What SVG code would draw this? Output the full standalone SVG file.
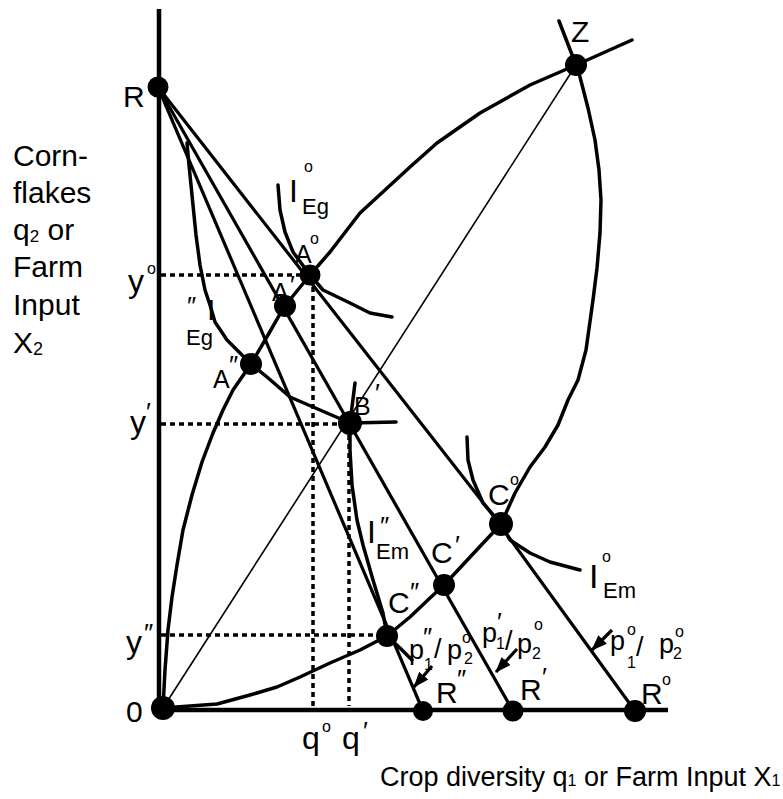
<svg xmlns="http://www.w3.org/2000/svg" width="783" height="799" viewBox="0 0 783 799">
<style>
text{font-family:"Liberation Sans",Arial,sans-serif;fill:#000}
.lbl{font-size:30px}
.big{font-size:32px}
.sm{font-size:25px}
.pp{font-size:27px}
.deg{font-size:16px}
.pr{font-size:26px}
.sub{font-size:22px}
.ps{font-size:16px}
.axis{stroke:#000;stroke-width:4.5;fill:none}
.bl{stroke:#000;stroke-width:3.2;fill:none;stroke-linejoin:round}
.cv{stroke:#000;stroke-width:3.5;fill:none;stroke-linejoin:round;stroke-linecap:round}
.thin{stroke:#000;stroke-width:1.6;fill:none}
.dot{stroke:#000;stroke-width:3.5;fill:none;stroke-dasharray:5 4}
.node{fill:#000}
</style>
<defs>
<marker id="ah" viewBox="0 0 16 12" refX="15" refY="6" markerWidth="16" markerHeight="12" markerUnits="userSpaceOnUse" orient="auto">
<path d="M0,0 L16,6 L0,12 Z" fill="#000"/>
</marker>
</defs>

<g id="connectors">
<path class="axis" d="M159,9 L159,710 L668,710"/>
<path class="dot" d="M161,275 L300,275"/>
<path class="dot" d="M161,424 L340,424"/>
<path class="dot" d="M161,635 L377,635"/>
<path class="dot" d="M313,287 L313,706"/>
<path class="dot" d="M349,435 L349,706"/>
<path class="thin" d="M163,708 L576,65"/>
<path class="bl" d="M158,87 L423,711"/>
<path class="bl" d="M158,87 L513,711"/>
<path class="bl" d="M158,87 L492,514 L635,711"/>
<path class="cv" d="M163,708 L165,670 L168,630 L172,597 L177,565 L183,530 L192,495 L202,462 L213,433 L223,410 L233,390 L251,364 L268,335 L284,307 L310,275 L330,252 L360,213 L385,190 L410,167 L437,143 L480,113 L530,85 L576,65 L632,40"/>
<path class="cv" d="M559,21 L576,65 L580,77 L588,108 L595,140 L599,170 L601,200 L600,233 L597,268 L593,300 L586,350 L578,380 L568,400 L558,425 L545,447 L530,467 L515,493 L501,524 L472,555 L444,585 L430,598 L410,617 L387,636 L360,650 L330,663 L300,677 L277,687 L250,695 L217,704 L163,708"/>
<path class="cv" d="M278,185 L280,210 L285,232 L293,252 L310,275 L323,290 L350,303 L370,313 L392,317"/>
<path class="cv" d="M187,143 L189,165 L192,195 L196,235 L200,265 L205,290 L210,305 L215,322 L227,340 L251,364 L267,377 L290,397 L320,410 L350,423 L396,422"/>
<path class="cv" d="M467,437 L468,460 L473,480 L483,503 L501,524 L510,540 L530,553 L550,562 L580,570"/>
<path class="cv" d="M355,383 L350,423 L350,450 L352,485 L357,520 L363,545 L373,580 L383,613 L387,636 L400,648 L412,660"/>
<path class="bl" d="M612,630 L592,650" marker-end="url(#ah)"/>
<path class="bl" d="M517,649 L496,672" marker-end="url(#ah)"/>
<path class="bl" d="M432,666 L414,687" marker-end="url(#ah)"/>
</g>

<g id="node-R"><circle class="node" cx="158" cy="87" r="10.5"/><text class="lbl" x="123" y="107">R</text></g>
<g id="node-Z"><circle class="node" cx="576" cy="65" r="11"/><text class="lbl" x="571" y="42">Z</text></g>
<g id="node-A0"><circle class="node" cx="310" cy="275" r="10.5"/><text class="sm" x="295" y="263">A</text><text class="deg" x="310" y="244">o</text></g>
<g id="node-A1"><circle class="node" cx="285" cy="306" r="11"/><text class="sm" x="272" y="301">A</text><text class="pr" x="290" y="294">′</text></g>
<g id="node-A2"><circle class="node" cx="251" cy="364" r="11"/><text class="sm" x="213" y="388">A</text><text class="pr" x="229" y="374">″</text></g>
<g id="node-B1"><circle class="node" cx="350" cy="423" r="12"/><text class="sm" x="354" y="415">B</text><text class="pr" x="375" y="402">′</text></g>
<g id="node-C0"><circle class="node" cx="501" cy="524" r="12"/><text class="lbl" x="488" y="505">C</text><text class="deg" x="510" y="485">o</text></g>
<g id="node-C1"><circle class="node" cx="444" cy="585" r="11"/><text class="lbl" x="431" y="563">C</text><text class="pr" x="455" y="554">′</text></g>
<g id="node-C2"><circle class="node" cx="387" cy="636" r="11"/><text class="lbl" x="388" y="613">C</text><text class="pr" x="410" y="601">″</text></g>
<g id="node-O"><circle class="node" cx="163" cy="708" r="12"/><text class="lbl" x="126" y="722">0</text></g>
<g id="node-R2"><circle class="node" cx="423" cy="711" r="10"/><text class="lbl" x="436" y="703">R</text><text class="pr" x="457" y="688">″</text></g>
<g id="node-R1"><circle class="node" cx="513" cy="711" r="10.5"/><text class="lbl" x="520" y="700">R</text><text class="pr" x="542" y="686">′</text></g>
<g id="node-R0"><circle class="node" cx="635" cy="711" r="11"/><text class="lbl" x="641" y="704">R</text><text class="deg" x="662" y="685">o</text></g>

<g id="label-IEg0"><text class="big" x="289" y="202">I</text><text class="deg" x="304" y="172">o</text><text class="sub" x="302" y="214">Eg</text></g>
<g id="label-IEg2"><text class="pr" x="187" y="315">″</text><text class="lbl" x="207" y="320">I</text><text class="sub" x="186" y="345">Eg</text></g>
<g id="label-IEm2"><text class="big" x="367" y="543">I</text><text class="pr" x="380" y="535">″</text><text class="sub" x="376" y="559">Em</text></g>
<g id="label-IEm0"><text class="big" x="589" y="588" style="font-size:34px">I</text><text class="deg" x="602" y="562">o</text><text class="sub" x="603" y="598">Em</text></g>

<g id="label-yo"><text class="big" x="128" y="292">y</text><text class="deg" x="147" y="274">o</text></g>
<g id="label-y1"><text class="big" x="130" y="433">y</text><text class="pr" x="146" y="421">′</text></g>
<g id="label-y2"><text class="big" x="126" y="653">y</text><text class="pr" x="144" y="642">″</text></g>
<g id="label-qo"><text class="big" x="302" y="749">q</text><text class="deg" x="322" y="732">o</text></g>
<g id="label-q1"><text class="big" x="342" y="749">q</text><text class="pr" x="363" y="740">′</text></g>

<g id="label-p2"><text class="pp" x="409" y="659">p</text><text class="pr" x="423" y="646">″</text><text class="ps" x="424" y="670">1</text><text class="pp" x="434" y="658">/</text><text class="pp" x="447" y="659">p</text><text class="deg" x="462" y="643">o</text><text class="ps" x="464" y="664">2</text></g>
<g id="label-p1"><text class="pp" x="482" y="642">p</text><text class="pr" x="497" y="631">′</text><text class="ps" x="496" y="649">1</text><text class="pp" x="505" y="650">/</text><text class="pp" x="517" y="653">p</text><text class="deg" x="534" y="630">o</text><text class="ps" x="532" y="659">2</text></g>
<g id="label-p0"><text class="pp" x="610" y="650">p</text><text class="deg" x="627" y="635">o</text><text class="ps" x="627" y="668">1</text><text class="pp" x="636" y="656">/</text><text class="pp" x="659" y="653">p</text><text class="deg" x="675" y="637">o</text><text class="ps" x="673" y="659">2</text></g>

<g id="label-yaxis">
<text class="lbl" x="13" y="166">Corn-</text>
<text class="lbl" x="13" y="203">flakes</text>
<text class="lbl" x="13" y="240">q<tspan style="font-size:17px" dy="2">2</tspan><tspan dy="-2"> or</tspan></text>
<text class="lbl" x="13" y="277">Farm</text>
<text class="lbl" x="13" y="315">Input</text>
<text class="lbl" x="13" y="353">X<tspan style="font-size:18px" dy="2">2</tspan></text>
</g>
<g id="label-xaxis">
<text style="font-size:27px" x="380" y="786">Crop diversity q<tspan style="font-size:16px">1</tspan> or Farm Input X<tspan style="font-size:16px">1</tspan></text>
</g>
</svg>
